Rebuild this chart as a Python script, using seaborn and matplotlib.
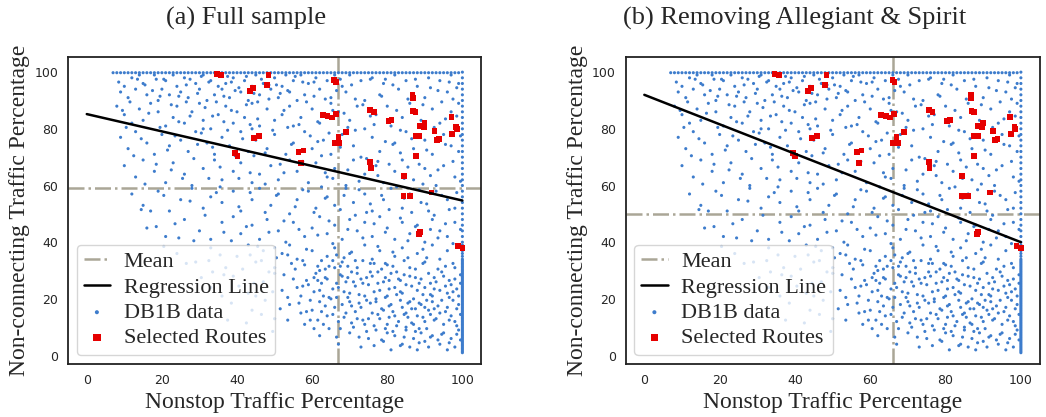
import numpy as np
import pandas as pd
import seaborn as sns
import matplotlib.pyplot as plt

# DB1B routes (x = nonstop %, y = non-connecting %)
db1b_pts = """
12,98 15,96 18,99 21,97 24,95 26,98 29,96 31,99 33,97 37,96 39,98 42,97 45,99 47,96 50,98 52,95 55,97 57,99 59,96 61,98
64,97 68,95 70,99 73,97 76,98 79,96 82,99 85,97 88,95 91,98 94,97 97,99 99,96 10,95 14,99 23,99 35,95 44,95 53,99 66,99
9,93 11,91 13,94 16,92 19,90 20,94 22,92 25,93 27,91 30,94 32,90 34,92 36,94 38,91 41,93 43,90 46,92 49,94 51,91 54,93
56,90 58,92 62,94 65,91 69,93 74,90 78,92 83,94 90,91 96,93
8,88 10,85 12,82 14,87 15,83 17,89 19,86 21,81 23,84 24,88 26,82 28,86 30,89 31,83 33,80 35,85 37,88 39,82 40,86 42,84
44,89 46,81 48,87 50,83 52,85 54,88 55,81 57,84 60,87 62,82 65,89 67,86 70,83 72,88 74,80 77,85 80,88 81,81 84,84 86,89
89,83 92,87 94,82 97,86 99,89
9,77 11,73 13,79 16,75 18,71 20,78 22,74 25,76 27,72 29,79 32,75 34,71 36,77 38,74 41,79 43,72 45,76 48,73 50,78 53,71
55,75 58,79 60,73 63,76 65,71 68,78 71,74 73,70 76,77 78,72 82,75 85,79 87,73 90,76 92,71 95,78 97,74 99,72 44,80 31,80
10,67 13,63 15,69 18,65 21,61 23,68 26,64 28,60 31,66 34,69 36,62 39,65 41,68 44,61 46,64 49,67 51,62 54,69 56,65 59,61
61,68 64,63 66,66 69,60 71,69 74,64 77,67 79,61 82,65 84,69 87,62 90,66 93,60 95,67 98,63
12,57 15,53 19,58 22,51 25,55 28,59 31,52 33,56 36,54 39,58 41,51 44,55 46,59 49,53 51,57 54,50 56,55 59,58 61,52 64,56
66,53 69,59 71,54 74,57 76,51 79,55 81,59 84,52 86,57 89,54 91,51 93,58 96,55 98,52 17,51
16,45 21,42 26,48 30,44 33,41 36,47 39,49 41,43 44,46 46,41 48,48 51,44 53,40 55,47 58,42 60,45 62,49 64,43 66,46 68,41
70,48 72,44 74,47 76,42 78,49 80,45 82,41 84,47 86,43 88,46 90,40 92,48 94,44 96,42 98,47
24,36 29,33 33,38 37,31 40,35 43,39 45,33 47,37 50,31 52,36 54,39 56,34 58,32 60,37 62,30 64,35 66,38 68,33 70,36 72,31
74,39 76,34 78,37 80,32 82,35 84,38 86,31 88,36 90,33 92,39 94,34 96,37 98,31 50,38 66,31
33,24 39,28 43,22 47,26 50,29 52,23 55,27 57,21 59,25 61,29 62,23 64,27 65,20 67,24 68,28 70,22 71,26 72,29 74,21 75,25
76,28 78,23 79,26 80,21 81,29 82,24 83,27 84,22 85,25 86,28 87,20 88,23 89,27 90,24 91,29 92,21 93,26 94,23 95,28 96,22
97,25 98,27 99,21 56,24 63,21 69,26 77,20 73,27 45,21 36,21
44,16 50,13 54,18 58,11 60,16 62,19 64,14 66,17 67,12 69,15 70,19 72,13 73,17 74,11 76,15 77,19 78,13 79,16 80,11 81,18
82,14 83,12 84,17 85,15 86,19 87,11 88,14 89,18 90,12 91,16 92,19 93,13 94,15 95,11 96,17 97,14 98,12 99,18 63,11 68,18
71,10 75,13 85,10 90,17 57,15
62,7 67,4 70,8 73,3 75,6 77,9 79,5 81,2 82,7 84,4 85,9 87,6 88,2 89,8 90,5 91,3 92,7 94,4 95,8 96,2
97,6 98,3 99,9 86,3 80,8
8.5,96.5 11.5,89.5 13.5,97.5 16.5,85.5 17.5,93.5 19.5,80.5 20.5,97.5 22.5,88.5 23.5,77.5 24.5,91.5 26.5,95.5 27.5,84.5
28.5,69.5 29.5,92.5 30.5,78.5 31.5,87.5 32.5,96.5 33.5,73.5 34.5,89.5 35.5,66.5 36.5,82.5 37.5,98.5 38.5,86.5 39.5,70.5
40.5,94.5 41.5,76.5 42.5,88.5 43.5,64.5 44.5,92.5 45.5,83.5 46.5,97.5 47.5,71.5 48.5,90.5 49.5,79.5 50.5,95.5 51.5,67.5
52.5,86.5 53.5,93.5 54.5,74.5 55.5,98.5 56.5,81.5 57.5,68.5 58.5,89.5 59.5,77.5 12.5,70.5 14.5,76.5 15.5,60.5 18.5,67.5
21.5,72.5 25.5,62.5 27.5,97.5 10.5,80.5 9.5,86.5 30.5,98.5 36.5,91.5 42.5,98.5 48.5,95.5 33.5,84.5 39.5,93.5 45.5,89.5
51.5,92.5 57.5,96.5 60.5,91.5 24.5,82.5 19.5,91.5 15.5,95.5 37.5,79.5 43.5,81.5 53.5,80.5 29.5,74.5 22.5,65.5 35.5,59.5
40.5,62.5 47.5,60.5 52.5,64.5 18.5,97.5 26.5,89.5 32.5,62.5 38.5,96.5 44.5,70.5
40.5,52.5 42.5,45.5 43.5,57.5 45.5,38.5 47.5,50.5 48.5,43.5 50.5,56.5 52.5,47.5 53.5,35.5 55.5,52.5 56.5,44.5 57.5,58.5
58.5,37.5 60.5,50.5 61.5,42.5 63.5,55.5 64.5,47.5 65.5,39.5 67.5,51.5 68.5,56.5 69.5,44.5 70.5,36.5 71.5,49.5 72.5,58.5
73.5,41.5 75.5,53.5 76.5,46.5 77.5,38.5 78.5,56.5 79.5,43.5 80.5,51.5 81.5,36.5 83.5,48.5 84.5,55.5 85.5,40.5 86.5,50.5
87.5,45.5 88.5,58.5 89.5,37.5 90.5,53.5 91.5,44.5 92.5,49.5 93.5,41.5 94.5,56.5 95.5,46.5 96.5,51.5 97.5,39.5 98.5,57.5
99.5,44.5 62.5,59.5 66.5,35.5 74.5,50.5 82.5,59.5 36.5,43.5 31.5,49.5 27.5,54.5 23.5,46.5 20.5,56.5 34.5,57.5 38.5,40.5
55.5,30.5 56.5,18.5 57.5,33.5 58.5,26.5 59.5,12.5 60.5,22.5 61.5,31.5 62.5,15.5 63.5,27.5 64.5,9.5 65.5,33.5 66.5,20.5
67.5,28.5 68.5,13.5 69.5,31.5 70.5,17.5 71.5,24.5 72.5,6.5 73.5,33.5 74.5,19.5 75.5,29.5 76.5,10.5 77.5,25.5 78.5,16.5
79.5,32.5 80.5,23.5 81.5,8.5 82.5,29.5 83.5,19.5 84.5,33.5 85.5,13.5 86.5,24.5 87.5,30.5 88.5,9.5 89.5,21.5 90.5,34.5
91.5,14.5 92.5,27.5 93.5,5.5 94.5,19.5 95.5,31.5 96.5,12.5 97.5,22.5 98.5,7.5 99.5,28.5
60.5,27.5 62.5,33.5 64.5,20.5 66.5,25.5 68.5,22.5 70.5,29.5 72.5,21.5 74.5,27.5 76.5,22.5 78.5,30.5 80.5,26.5 82.5,21.5
84.5,28.5 86.5,16.5 88.5,25.5 90.5,19.5 92.5,23.5 94.5,29.5 96.5,26.5 98.5,23.5
61.5,12.5 63.5,17.5 65.5,14.5 67.5,9.5 69.5,20.5 71.5,15.5 73.5,12.5 75.5,18.5 77.5,14.5 79.5,20.5 81.5,15.5 83.5,22.5
85.5,18.5 87.5,16.5 89.5,13.5 91.5,21.5 93.5,17.5 95.5,15.5 97.5,19.5 99.5,14.5
66.5,6.5 70.5,11.5 74.5,8.5 78.5,5.5 80.5,13.5 82.5,10.5 84.5,6.5 86.5,11.5 88.5,4.5 90.5,9.5 92.5,12.5 94.5,7.5
96.5,4.5 98.5,10.5 99.5,5.5 91.5,6.5 87.5,8.5 83.5,3.5 79.5,9.5 76.5,3.5
57.5,24.5 59.5,19.5 61.5,26.5 63.5,30.5 65.5,23.5 67.5,31.5 69.5,27.5 71.5,33.5 73.5,25.5 75.5,32.5 77.5,29.5 79.5,27.5
81.5,31.5 83.5,26.5 85.5,34.5 87.5,27.5 89.5,32.5 91.5,25.5 93.5,30.5 95.5,24.5 97.5,32.5 99.5,25.5
58.5,15.5 60.5,9.5 62.5,25.5 64.5,31.5 68.5,34.5 72.5,18.5 76.5,32.5 80.5,17.5 84.5,14.5 88.5,18.5 92.5,16.5 96.5,20.5
98.5,16.5
20.5,38.5 26.5,32.5 30.5,27.5 35.5,35.5 38.5,18.5 41.5,30.5 42.5,11.5 44.5,25.5 46.5,33.5 47.5,19.5 48.5,29.5 49.5,22.5
50.5,34.5 51.5,16.5 52.5,28.5 53.5,20.5 54.5,32.5 46.5,14.5 40.5,24.5 36.5,28.5 32.5,33.5 28.5,40.5 43.5,35.5 37.5,12.5
49.5,8.5 53.5,12.5 18.5,45.5 14.5,51.5 24.5,41.5 33.5,29.5
60.5,96.5 61.5,82.5 62.5,70.5 63.5,90.5 64.5,78.5 65.5,62.5 66.5,93.5 67.5,73.5 68.5,85.5 69.5,65.5 70.5,95.5 71.5,79.5
72.5,61.5 73.5,88.5 74.5,69.5 75.5,97.5 76.5,81.5 77.5,63.5 78.5,91.5 79.5,75.5 80.5,67.5 81.5,95.5 82.5,86.5 83.5,71.5
84.5,62.5 85.5,90.5 86.5,76.5 87.5,97.5 88.5,67.5 89.5,88.5 90.5,72.5 91.5,94.5 92.5,80.5 93.5,65.5 94.5,89.5 95.5,74.5
96.5,96.5 97.5,68.5 98.5,84.5 99.5,77.5 98.5,94.5 99.5,61.5 71.5,90.5 75.5,84.5 79.5,97.5 83.5,79.5 87.5,85.5 91.5,63.5
95.5,83.5 63.5,64.5 67.5,97.5 77.5,68.5 85.5,66.5 93.5,93.5 97.5,90.5 61.5,75.5 69.5,80.5 81.5,74.5 89.5,60.5 65.5,86.5
"""
# routes sitting on the 100% edges
top_edge_x = [7, 8, 9, 10, 11, 12, 13, 14, 15, 16, 17, 18, 19, 20, 21, 22, 23, 24, 25, 26, 27, 28, 29, 30, 31, 32,
              33, 34, 35, 36, 37, 38, 39, 40, 41, 42, 43, 44, 45, 46, 47, 48, 49, 50, 51, 52, 53, 54, 55, 56, 57,
              58, 59, 60, 61, 62, 63, 64, 65, 66, 67, 68, 69, 70, 71, 72, 73, 74, 75, 76, 77, 78, 79, 80, 81, 82,
              83, 84, 85, 86, 87, 88, 89, 90, 91, 92, 93, 94, 95, 96, 97, 98, 99]
right_edge_y = [1, 1.5, 2, 2.5, 3, 3.5, 4, 4.5, 5, 5.5, 6, 6.5, 7, 7.5, 8, 8.5, 9, 9.5, 10, 10.5, 11, 11.5, 12,
                12.5, 13, 13.5, 14, 14.5, 15, 15.5, 16, 16.5, 17, 17.5, 18, 18.5, 19, 19.5, 20, 20.5, 21, 21.5,
                22, 22.5, 23, 23.5, 24, 24.5, 25, 25.5, 26, 26.5, 27, 27.5, 28, 28.5, 29, 29.5, 30, 30.5, 31,
                31.5, 32, 32.5, 33, 33.5, 34, 35, 36, 37, 38, 39, 40, 42, 44, 46, 48, 50, 52, 54, 56, 58, 60,
                62, 64, 66, 68, 70, 72, 74, 76, 78, 80, 82, 84, 86, 88, 90, 92, 94, 96, 98, 100]

# selected routes (red squares)
sel_x = [34.6, 35.7, 48.4, 44.2, 43.5, 48.0, 65.9, 66.4, 62.8, 64.1, 65.3, 66.3, 69.0, 67.0, 66.1, 67.3,
         44.5, 45.9, 39.4, 40.1, 56.4, 57.7, 57.1, 75.5, 76.5, 80.3, 81.1, 86.7, 86.8, 86.9, 87.5, 88.6,
         89.7, 89.9, 87.5, 88.6, 92.6, 93.2, 93.8, 97.1, 98.3, 98.5, 97.3, 87.6, 75.5, 75.7, 84.4, 84.3,
         86.0, 91.8, 88.4, 88.7, 98.8, 100.0]
sel_y = [99.3, 98.9, 98.9, 94.5, 93.4, 95.5, 97.2, 96.5, 84.9, 84.6, 84.0, 85.3, 78.9, 77.1, 74.9, 75.0,
         76.8, 77.4, 71.5, 70.3, 71.8, 72.4, 68.0, 86.6, 85.9, 82.8, 83.0, 91.9, 91.0, 86.2, 85.9, 80.9,
         80.7, 82.0, 77.4, 77.4, 79.3, 76.1, 76.4, 84.1, 80.7, 79.9, 78.1, 70.5, 68.4, 66.3, 63.3, 56.3,
         56.2, 57.5, 43.0, 43.6, 38.6, 37.9]

titles = ['(a) Full sample', '(b) Removing Allegiant & Spirit']
mean_x = [67.0, 66.0]
mean_y = [59.0, 50.0]
reg_intercept = [85.2, 92.0]
reg_slope = [-0.305, -0.52]

pairs = [p.split(',') for p in db1b_pts.split()]
cloud = pd.DataFrame({'x': [float(a) for a, b in pairs], 'y': [float(b) for a, b in pairs]})
edges = pd.DataFrame({'x': top_edge_x + [100.0] * len(right_edge_y),
                      'y': [99.8] * len(top_edge_x) + right_edge_y})
db1b = pd.concat([cloud, edges], ignore_index=True)
sel = pd.DataFrame({'x': sel_x, 'y': sel_y})

sns.set_style('white')
plt.rcParams['font.family'] = ['Liberation Serif', 'DejaVu Serif']

blue = '#3d7ccc'
red = '#e60000'
grey = '#aaa697'

fig = plt.figure(figsize=(10.46, 4.17), dpi=100)
ax1 = fig.add_axes([0.065, 0.127, 0.395, 0.736])
ax2 = fig.add_axes([0.598, 0.127, 0.396, 0.736])
title_x = [246 / 1046, 795 / 1046]

for i, ax in enumerate([ax1, ax2]):
    ax.axhline(mean_y[i], color=grey, lw=1.8, ls='-.', label='Mean', zorder=1)
    ax.axvline(mean_x[i], color=grey, lw=1.8, ls='-.', zorder=1)
    xs = np.array([0, 100])
    ax.plot(xs, reg_intercept[i] + reg_slope[i] * xs, color='black', lw=1.8,
            label='Regression Line', zorder=4)
    sns.scatterplot(data=db1b, x='x', y='y', s=5, color=blue, edgecolor='none', linewidth=0,
                    label='DB1B data', ax=ax, zorder=2)
    sns.scatterplot(data=sel, x='x', y='y', s=17, marker='s', color=red, edgecolor='none',
                    linewidth=0, label='Selected Routes', ax=ax, zorder=3)
    ax.set_xlim(-5, 105)
    ax.set_ylim(-3, 105.3)
    ax.set_xticks([0, 20, 40, 60, 80, 100])
    ax.set_yticks([0, 20, 40, 60, 80, 100])
    for t in ax.get_xticklabels() + ax.get_yticklabels():
        t.set_family('DejaVu Sans')
        t.set_fontsize(9)
    fig.text(title_x[i], 1 - 18 / 417, titles[i], fontsize=19, ha='center', va='center')
    ax.set_xlabel('Nonstop Traffic Percentage', fontsize=17, labelpad=4)
    ax.set_ylabel('Non-connecting Traffic Percentage', fontsize=17, labelpad=3)
    for sp in ax.spines.values():
        sp.set_color('#222222')
        sp.set_linewidth(1.3)
    ax.legend(loc='lower left', fontsize=16, handlelength=1.2, labelspacing=0.22,
              borderpad=0.3, handletextpad=0.6, framealpha=0.8, markerscale=1.3,
              borderaxespad=0.4)

fig.savefig('out.png', dpi=100)
